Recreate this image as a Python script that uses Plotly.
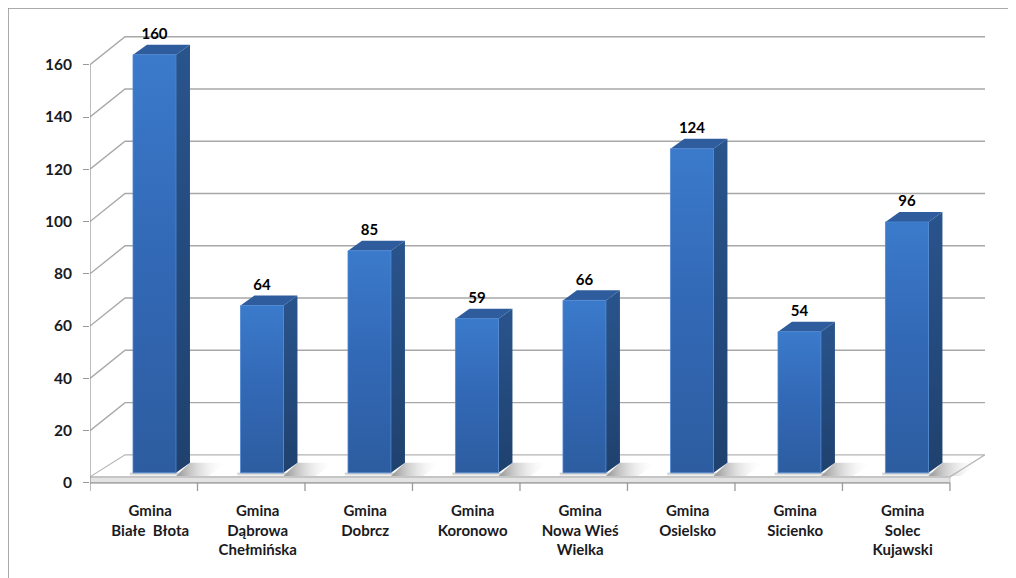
import plotly.graph_objects as go

# ---- data ----
categories = ["Gmina<br>Białe  Błota", "Gmina<br>Dąbrowa<br>Chełmińska", "Gmina<br>Dobrcz",
              "Gmina<br>Koronowo", "Gmina<br>Nowa Wieś<br>Wielka", "Gmina<br>Osielsko",
              "Gmina<br>Sicienko", "Gmina<br>Solec<br>Kujawski"]
values = [160, 64, 85, 59, 66, 124, 54, 96]
y_ticks = [0, 20, 40, 60, 80, 100, 120, 140, 160]

# ---- 3D-look styling constants (in axis units) ----
DX, DY = 0.326, 10.72          # full depth shift of the back wall
BX0, BX1 = -0.10, 0.30         # bar front face horizontal extent relative to category centre
SX, SY = 0.13, 3.83            # bar depth shift
BASE = 3.83                    # bar base height above the front 0 line
SLAB = 2.3                     # floor slab thickness

n = len(categories)
xmin, xmax = -0.5, n - 0.5
grid_c = "#a8a8a8"
font_c = "#1a1a22"

fig = go.Figure()

# floor slab front face
fig.add_trace(go.Scatter(x=[xmin, xmax, xmax, xmin, xmin], y=[0, 0, SLAB, SLAB, 0],
                         fill="toself", fillcolor="#e3e3e3", mode="lines",
                         line=dict(color="#c4c4c4", width=1), hoverinfo="skip", showlegend=False))
# floor top surface
fig.add_trace(go.Scatter(x=[xmin, xmax, xmax + DX, xmin + DX, xmin],
                         y=[SLAB, SLAB, DY, DY, SLAB],
                         fill="toself", fillcolor="#ffffff", mode="lines",
                         line=dict(color="#b4b4b4", width=1.2), hoverinfo="skip", showlegend=False))

# grid lines: side wall diagonals + back wall horizontals
gx, gy = [], []
for t in y_ticks[1:]:
    gx += [xmin, xmin + DX, xmax + DX, None]
    gy += [t, t + DY, t + DY, None]
fig.add_trace(go.Scatter(x=gx, y=gy, mode="lines", line=dict(color=grid_c, width=1.4),
                         hoverinfo="skip", showlegend=False))

# bars
for i, v in enumerate(values):
    xl, xr = i + BX0, i + BX1
    top = BASE + v
    # floor shadow
    fig.add_trace(go.Scatter(
        x=[xr, xr + 0.30, xr + SX + 0.34, xr + SX, xr],
        y=[BASE - 1.2, BASE - 1.2, BASE + SY, BASE + SY, BASE - 1.2],
        fill="toself", mode="none",
        fillgradient=dict(type="horizontal",
                          colorscale=[[0, "rgba(110,110,110,0.75)"], [1, "rgba(255,255,255,0)"]]),
        hoverinfo="skip", showlegend=False))
    fig.add_trace(go.Scatter(
        x=[xl - 0.03, xr + 0.03, xr + 0.03, xl - 0.03, xl - 0.03],
        y=[BASE - 1.6, BASE - 1.6, BASE, BASE, BASE - 1.6],
        fill="toself", mode="none",
        fillgradient=dict(type="vertical",
                          colorscale=[[0, "rgba(200,200,200,0)"], [1, "rgba(150,150,150,0.6)"]]),
        hoverinfo="skip", showlegend=False))
    # side face
    fig.add_trace(go.Scatter(
        x=[xr, xr + SX, xr + SX, xr, xr], y=[BASE, BASE + SY, top + SY, top, BASE],
        fill="toself", mode="lines", line=dict(width=0, color="rgba(0,0,0,0)"),
        fillgradient=dict(type="vertical", colorscale=[[0, "#1f416e"], [1, "#29548c"]]),
        hoverinfo="skip", showlegend=False))
    # top face
    fig.add_trace(go.Scatter(
        x=[xl, xr, xr + SX, xl + SX, xl], y=[top, top, top + SY, top + SY, top],
        fill="toself", fillcolor="#2e5c9c", mode="lines", line=dict(width=0, color="rgba(0,0,0,0)"),
        hoverinfo="skip", showlegend=False))
    # front face
    fig.add_trace(go.Scatter(
        x=[xl, xr, xr, xl, xl], y=[BASE, BASE, top, top, BASE],
        fill="toself", mode="lines", line=dict(width=0.8, color="#4c88d4"),
        fillgradient=dict(type="vertical", colorscale=[[0, "#2d5da0"], [0.5, "#3268b5"], [1, "#3b7acb"]]),
        hoverinfo="skip", showlegend=False))

# front axes lines with category boundary ticks
ax_x = [xmin, xmin, None, xmin, xmax, None]
ax_y = [y_ticks[-1], 0, None, 0, 0, None]
for b in range(n + 1):
    ax_x += [b - 0.5, b - 0.5, None]
    ax_y += [0, -3.1, None]
fig.add_trace(go.Scatter(x=ax_x, y=ax_y, mode="lines", line=dict(color="#9a9a9a", width=1.3),
                         hoverinfo="skip", showlegend=False))

# data labels
fig.add_trace(go.Scatter(
    x=[i + (BX0 + BX1) / 2 for i in range(n)], y=[BASE + v + 4.5 for v in values],
    mode="text", text=[str(v) for v in values], textposition="top center",
    textfont=dict(family="Lato", size=15, color="#000000", weight="bold"),
    cliponaxis=False, hoverinfo="skip", showlegend=False))

# page body has an 8px margin; compensate so the plot sits where the reference has it
L, R, T, B = 82, 39, 28, 94
W, H = 1016, 578
pw, ph = W - L - R, H - T - B

fig.update_layout(
    width=W, height=H, margin=dict(l=L, r=R, t=T, b=B),
    paper_bgcolor="white", plot_bgcolor="white",
    xaxis=dict(range=[xmin, xmax + DX], showgrid=False, zeroline=False, showline=False,
               tickvals=[i + 0.06 for i in range(n)], ticktext=categories,
               ticks="outside", ticklen=5, tickcolor="rgba(0,0,0,0)",
               tickfont=dict(family="Lato", size=15, color=font_c, weight="bold")),
    yaxis=dict(range=[-3.5, 171], showgrid=False, zeroline=False, showline=False,
               tickvals=y_ticks, ticks="outside", ticklen=6, tickcolor="#9a9a9a", tickwidth=1.3,
               ticklabelstandoff=8,
               tickfont=dict(family="Lato", size=15.5, color=font_c, weight="bold")),
    shapes=[
        dict(type="line", xref="paper", yref="paper",
             x0=(0 - L) / pw, x1=(0 - L) / pw, y0=(H - B) / ph, y1=-1,
             line=dict(color="#8f8f8f", width=1.5)),
        dict(type="line", xref="paper", yref="paper",
             x0=(0 - L) / pw, x1=2, y0=(H - B) / ph, y1=(H - B) / ph,
             line=dict(color="#8f8f8f", width=1.5)),
    ],
)

fig.write_html("out.html")
